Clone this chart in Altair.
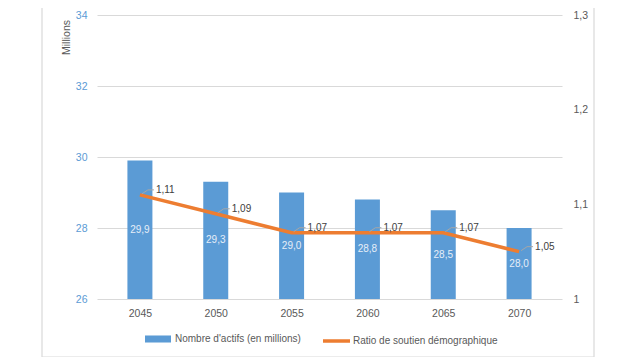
import altair as alt
import pandas as pd

years = [2045, 2050, 2055, 2060, 2065, 2070]
actifs = [29.9, 29.3, 29.0, 28.8, 28.5, 28.0]
ratio = [1.11, 1.09, 1.07, 1.07, 1.07, 1.05]
left_ticks = [26, 28, 30, 32, 34]
right_ticks = [1, 1.1, 1.2, 1.3]
bar_name = "Nombre d'actifs (en millions)"
line_name = "Ratio de soutien démographique"

df = pd.DataFrame({"annee": years, "actifs": actifs, "ratio": ratio})
df["serie_bar"] = bar_name
df["serie_line"] = line_name

FONT = "Liberation Sans"
BLUE = "#5b9bd5"
ORANGE = "#ed7d31"
GREY = "#595959"

xscale = alt.Scale(domain=[2042.5, 2072.5], nice=False, zero=False)
x = alt.X("annee:Q", scale=xscale, title=None,
          axis=alt.Axis(values=years, format="d", grid=False, domain=False, ticks=False,
                        labelPadding=9, labelColor=GREY, labelFontSize=10.5, labelFont=FONT,
                        labelFlush=False))
lscale = alt.Scale(domain=[26, 34], zero=False, nice=False)
rscale = alt.Scale(domain=[1, 1.3], zero=False, nice=False)

base = alt.Chart(df)

bars = base.mark_bar(size=25).encode(
    x=x,
    y=alt.Y("actifs:Q", scale=lscale,
            axis=alt.Axis(values=left_ticks, title="Millions", grid=True, gridColor="#d9d9d9",
                          gridWidth=1, domain=False, ticks=False, labelPadding=10,
                          labelColor=BLUE, labelFontSize=10.5, labelFont=FONT,
                          titleFont=FONT, titleFontSize=10.5, titleFontWeight="normal",
                          titleColor=GREY, titleAngle=-90, titleX=-31, titleY=22,
                          titleAlign="center", titleBaseline="middle")),
    y2=alt.datum(26),
    color=alt.Color("serie_bar:N", scale=alt.Scale(domain=[bar_name], range=[BLUE]),
                    legend=alt.Legend(orient="none", legendX=48, legendY=311, title=None,
                                      symbolType="M-1,-0.27H1V0.27H-1Z", symbolSize=676,
                                      symbolStrokeWidth=0, labelFont=FONT, labelFontSize=10,
                                      labelColor=GREY, padding=0, labelOffset=4)),
)

bar_text = base.transform_calculate(
    mid="(datum.actifs + 26) / 2",
    lab="replace(format(datum.actifs, '.1f'), '.', ',')",
).mark_text(color="#e6eef8", fontSize=10, font=FONT, baseline="middle").encode(
    x=x,
    y=alt.Y("mid:Q", scale=lscale, axis=None),
    text="lab:N",
)

line = base.mark_line(strokeWidth=3.5).encode(
    x=x,
    y=alt.Y("ratio:Q", scale=rscale,
            axis=alt.Axis(orient="right", values=right_ticks, title=None, grid=False,
                          domain=False, ticks=False, labelPadding=11, labelColor=GREY,
                          labelFontSize=10.5, labelFont=FONT,
                          labelExpr="replace(format(datum.value, '.1~f'), '.', ',')")),
    stroke=alt.Stroke("serie_line:N", scale=alt.Scale(domain=[line_name], range=[ORANGE]),
                      legend=alt.Legend(orient="none", legendX=224, legendY=310.5, title=None,
                                        symbolType="stroke", symbolSize=729,
                                        symbolStrokeWidth=3.5, labelFont=FONT,
                                        labelFontSize=10, labelColor=GREY, padding=0,
                                        labelOffset=1)),
)

lead1 = base.mark_rule(color="#a6a6a6", strokeWidth=1, xOffset=2, x2Offset=8,
                       yOffset=-1, y2Offset=-5).encode(
    x=x, x2="annee:Q", y=alt.Y("ratio:Q", scale=rscale, axis=None), y2="ratio:Q")
lead2 = base.mark_rule(color="#a6a6a6", strokeWidth=1, xOffset=8, x2Offset=14,
                       yOffset=-5, y2Offset=-5).encode(
    x=x, x2="annee:Q", y=alt.Y("ratio:Q", scale=rscale, axis=None), y2="ratio:Q")

line_text = base.transform_calculate(
    lab="replace(format(datum.ratio, '.2f'), '.', ',')"
).mark_text(align="left", baseline="middle", dx=16, dy=-5, fontSize=10, font=FONT,
            color="#404040").encode(
    x=x, y=alt.Y("ratio:Q", scale=rscale, axis=None), text="lab:N")

one = alt.Chart(alt.Data(values=[{"a": 1}]))
border_l = one.mark_rule(color="#d9d9d9", strokeWidth=1.2).encode(
    x=alt.value(-55), y=alt.value(-10), y2=alt.value(342))
border_r = one.mark_rule(color="#d9d9d9", strokeWidth=1.2).encode(
    x=alt.value(497), y=alt.value(-10), y2=alt.value(342))
border_b = one.mark_rule(color="#d9d9d9", strokeWidth=1.2).encode(
    x=alt.value(-55), x2=alt.value(497), y=alt.value(342))

chart = alt.layer(
    bars, bar_text, line, lead1, lead2, line_text, border_l, border_r, border_b
).resolve_scale(
    y="independent"
).properties(
    width=465, height=284,
    autosize=alt.AutoSizeParams(type="none"),
    padding={"left": 89, "top": 7, "right": 66, "bottom": 58},
).configure(font=FONT).configure_view(strokeWidth=0)

chart.save("out.html", embed_options={"renderer": "svg", "actions": False})
